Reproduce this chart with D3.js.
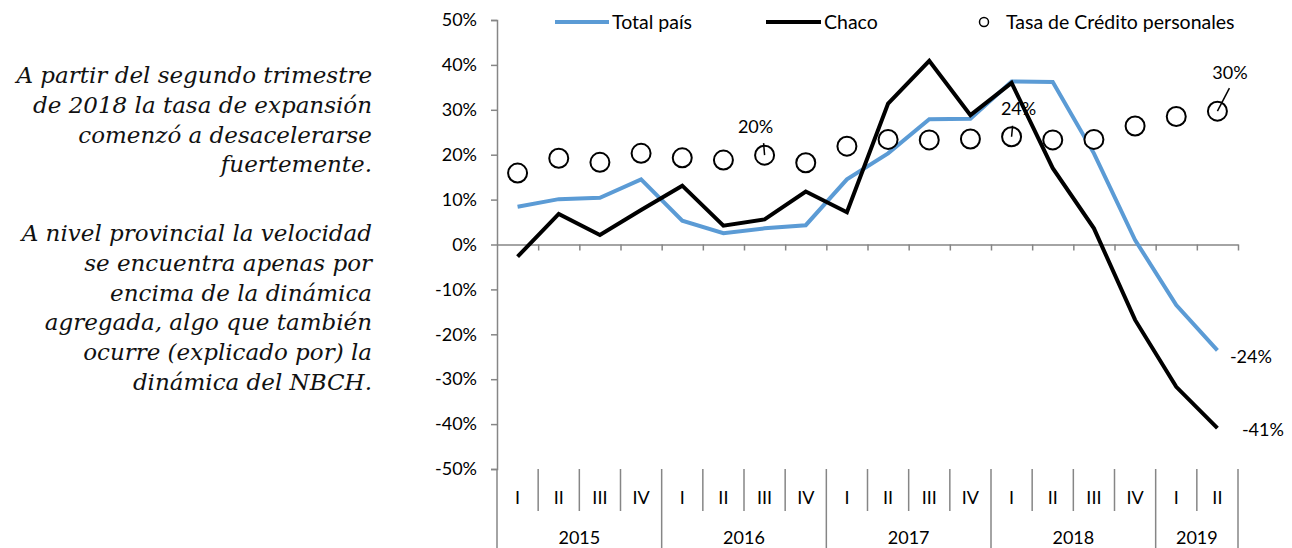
<!DOCTYPE html>
<html>
<head>
<meta charset="utf-8">
<script src="https://cdn.jsdelivr.net/npm/d3@7"></script>
<style>
  body { margin: 0; background: #fff; }
  svg { display: block; }
</style>
</head>
<body>
<div id="chart"></div>
<script>
// quarterly growth, %
var quarters = ["I", "II", "III", "IV", "I", "II", "III", "IV", "I", "II", "III", "IV", "I", "II", "III", "IV", "I", "II"];
var years = ["2015", "2016", "2017", "2018", "2019"];
var quartersPerYear = [4, 4, 4, 4, 2];
var totalPais = [8.4, 10.1, 10.4, 14.5, 5.3, 2.5, 3.6, 4.3, 14.5, 20.3, 27.9, 28.0, 36.3, 36.2, 20.3, 1.0, -13.5, -23.6];
var chaco = [-2.7, 6.8, 2.1, 7.7, 13.1, 4.2, 5.6, 11.8, 7.2, 31.4, 40.9, 28.8, 36.0, 17.0, 3.6, -16.8, -31.7, -40.9];
var tasaCredito = [15.9, 19.2, 18.3, 20.3, 19.3, 18.8, 19.9, 18.2, 21.9, 23.4, 23.3, 23.5, 24.0, 23.3, 23.4, 26.4, 28.5, 29.7];
var yTicks = [50, 40, 30, 20, 10, 0, -10, -20, -30, -40, -50];
var tasaLabelIdx = [6, 12, 17];
var notes = [
    ["A partir del segundo trimestre", "de 2018 la tasa de expansión", "comenzó a desacelerarse", "fuertemente."],
    ["A nivel provincial la velocidad", "se encuentra apenas por", "encima de la dinámica", "agregada, algo que también", "ocurre (explicado por) la", "dinámica del NBCH."]
];

var width = 1292, height = 548;
var font = "Lato, 'Open Sans', sans-serif";
var axisColor = "#868686";
var blue = "#5B9BD5";

var svg = d3.select("#chart").append("svg")
    .attr("width", width)
    .attr("height", height);

// side notes
var noteG = svg.append("g")
    .style("font-family", "'DejaVu Serif', serif")
    .style("font-style", "italic")
    .style("font-size", "23px")
    .attr("fill", "#111")
    .attr("text-anchor", "end");
var paraTop = [83, 241];
notes.forEach(function (para, p) {
    para.forEach(function (line, i) {
        noteG.append("text")
            .attr("x", 372)
            .attr("y", paraTop[p] + i * 29.8)
            .text(line);
    });
});

var x = d3.scaleBand()
    .domain(d3.range(quarters.length))
    .range([497, 1238]);
var bw = x.bandwidth();
var cx = function (i) { return x(i) + bw / 2; };

var y = d3.scaleLinear()
    .domain([-50, 50])
    .range([469, 20]);

// y axis
var yAxis = svg.append("g")
    .attr("transform", "translate(497,0)")
    .call(d3.axisLeft(y).tickValues(yTicks).tickSize(6).tickSizeOuter(6)
        .tickFormat(function (d) { return d + "%"; }));
yAxis.selectAll("path, line").attr("stroke", axisColor).attr("stroke-width", 1.5);
yAxis.selectAll("text")
    .attr("x", -20)
    .style("font-family", font)
    .style("font-size", "18px")
    .attr("fill", "#000");

// zero line with ticks at category boundaries
var xb = d3.scaleLinear().domain([0, quarters.length]).range([497, 1238]);
var xAxis = svg.append("g")
    .attr("transform", "translate(0," + y(0) + ")")
    .call(d3.axisBottom(xb).tickValues(d3.range(1, quarters.length + 1)).tickSize(6).tickSizeOuter(0).tickFormat(""));
xAxis.selectAll("path, line").attr("stroke", axisColor).attr("stroke-width", 1.5);

// category box under the plot
var yearStarts = [0];
quartersPerYear.forEach(function (n, i) { yearStarts.push(yearStarts[i] + n); });
var catG = svg.append("g");
d3.range(quarters.length + 1).forEach(function (k) {
    var isYear = yearStarts.indexOf(k) >= 0;
    catG.append("line")
        .attr("x1", xb(k)).attr("x2", xb(k))
        .attr("y1", 469).attr("y2", isYear ? 548 : 511)
        .attr("stroke", axisColor)
        .attr("stroke-width", 1.5);
});
catG.selectAll(".q")
    .data(quarters)
    .enter().append("text")
    .attr("x", function (d, i) { return cx(i); })
    .attr("y", 504)
    .attr("text-anchor", "middle")
    .style("font-family", font)
    .style("font-size", "18px")
    .text(function (d) { return d; });
catG.selectAll(".yr")
    .data(years)
    .enter().append("text")
    .attr("x", function (d, i) { return (xb(yearStarts[i]) + xb(yearStarts[i + 1])) / 2; })
    .attr("y", 544)
    .attr("text-anchor", "middle")
    .style("font-family", font)
    .style("font-size", "18px")
    .text(function (d) { return d; });

// lines
var line = d3.line()
    .x(function (d, i) { return cx(i); })
    .y(function (d) { return y(d); });

svg.append("path")
    .datum(totalPais)
    .attr("d", line)
    .attr("fill", "none")
    .attr("stroke", blue)
    .attr("stroke-width", 4);

svg.append("path")
    .datum(chaco)
    .attr("d", line)
    .attr("fill", "none")
    .attr("stroke", "#000")
    .attr("stroke-width", 4);

svg.selectAll(".dot")
    .data(tasaCredito)
    .enter().append("circle")
    .attr("cx", function (d, i) { return cx(i); })
    .attr("cy", function (d) { return y(d); })
    .attr("r", 9.5)
    .attr("fill", "#fff")
    .attr("stroke", "#000")
    .attr("stroke-width", 2);

// data labels
var pct = function (v) { return Math.round(v) + "%"; };
var labelOffsets = [[-9, -22, -1, -12], [7, -22, 1, -11], [12.5, -32, 12, -23]];
tasaLabelIdx.forEach(function (idx, j) {
    var px = cx(idx), py = y(tasaCredito[idx]), o = labelOffsets[j];
    svg.append("line")
        .attr("x1", px).attr("y1", py)
        .attr("x2", px + o[2]).attr("y2", py + o[3])
        .attr("stroke", "#000").attr("stroke-width", 1.5);
    svg.append("text")
        .attr("x", px + o[0])
        .attr("y", py + o[1])
        .attr("text-anchor", "middle")
        .style("font-family", font)
        .style("font-size", "18px")
        .text(pct(tasaCredito[idx]));
});
var last = quarters.length - 1;
svg.append("text")
    .attr("x", cx(last) + 12.5)
    .attr("y", y(totalPais[last]) + 13)
    .style("font-family", font)
    .style("font-size", "18px")
    .text(pct(totalPais[last]));
svg.append("text")
    .attr("x", cx(last) + 24.5)
    .attr("y", y(chaco[last]) + 8)
    .style("font-family", font)
    .style("font-size", "18px")
    .text(pct(chaco[last]));

// legend
var leg = svg.append("g")
    .style("font-family", font)
    .style("font-size", "19.5px");
leg.append("line").attr("x1", 555).attr("x2", 609).attr("y1", 22).attr("y2", 22)
    .attr("stroke", blue).attr("stroke-width", 4);
leg.append("text").attr("x", 612).attr("y", 29).text("Total país");
leg.append("line").attr("x1", 766).attr("x2", 821).attr("y1", 22).attr("y2", 22)
    .attr("stroke", "#000").attr("stroke-width", 4);
leg.append("text").attr("x", 824).attr("y", 29).text("Chaco");
leg.append("circle").attr("cx", 984).attr("cy", 22).attr("r", 4.5)
    .attr("fill", "#fff").attr("stroke", "#000").attr("stroke-width", 1.5);
leg.append("text").attr("x", 1006).attr("y", 29).text("Tasa de Crédito personales");
</script>
</body>
</html>
